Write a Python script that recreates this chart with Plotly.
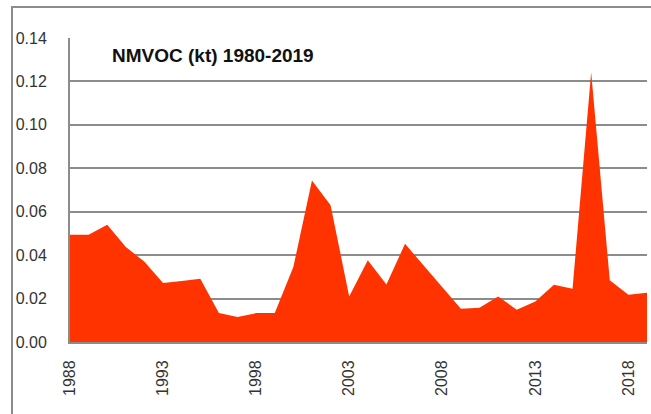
import plotly.graph_objects as go

years = list(range(1988, 2020))
nmvoc = [0.0494, 0.0494, 0.0540, 0.0437, 0.0370, 0.0272, 0.0281, 0.0291,
         0.0133, 0.0115, 0.0133, 0.0133, 0.0345, 0.0744, 0.0630, 0.0210,
         0.0376, 0.0265, 0.0452, 0.0352, 0.0256, 0.0153, 0.0158, 0.0210,
         0.0149, 0.0187, 0.0264, 0.0245, 0.1242, 0.0284, 0.0218, 0.0227]
x_ticks = [1988, 1993, 1998, 2003, 2008, 2013, 2018]
y_ticks = [0.00, 0.02, 0.04, 0.06, 0.08, 0.10, 0.12, 0.14]
title_text = "NMVOC (kt) 1980-2019"

fig = go.Figure()
fig.add_trace(go.Scatter(
    x=years, y=nmvoc, mode="lines", fill="tozeroy",
    line=dict(width=0, color="#FF3300"), fillcolor="#FF3300",
    hoverinfo="x+y", showlegend=False,
))

L, R, T, B = 70, 4, 38, 72
W, H = 651, 414
pw, ph = W - L - R, H - T - B

fig.update_layout(
    width=W, height=H, autosize=False,
    margin=dict(l=L, r=R, t=T, b=B, pad=0),
    paper_bgcolor="white", plot_bgcolor="white",
    font=dict(family="Liberation Sans, Arial, sans-serif", color="#333333"),
    xaxis=dict(
        range=[1988, 2019], tickvals=x_ticks, ticktext=[str(v) for v in x_ticks],
        tickangle=-90, showgrid=False, zeroline=False,
        showline=True, linecolor="#8c8c8c", linewidth=2,
        ticks="", ticklabelstandoff=10, tickfont=dict(size=16, color="#333333"),
    ),
    yaxis=dict(
        range=[0, 0.14], tickvals=y_ticks, ticktext=[f"{v:.2f}" for v in y_ticks],
        showgrid=True, gridcolor="#8c8c8c", gridwidth=2, zeroline=False,
        showline=True, linecolor="#8c8c8c", linewidth=2,
        ticks="", ticklabelstandoff=18, tickfont=dict(size=16, color="#333333"),
    ),
    annotations=[dict(
        text="<b>" + title_text + "</b>", xref="paper", yref="paper",
        x=(110 - L) / pw, y=(H - B - 55) / ph, xanchor="left", yanchor="middle",
        showarrow=False, font=dict(size=19, color="#111111"),
    )],
    shapes=[dict(
        type="rect", xref="paper", yref="paper",
        x0=(12 - L) / pw, x1=1.2, y0=-0.6, y1=(H - B - 7) / ph,
        line=dict(color="#8c8c8c", width=2), fillcolor="rgba(0,0,0,0)", layer="below",
    )],
)

post = ("document.body.style.margin='0px';document.body.style.padding='0px';"
        "document.body.style.overflow='hidden';"
        "var gd=document.getElementById('{plot_id}');"
        "Plotly.relayout(gd,{width:651,height:414});")

fig.write_html("out.html", config={"responsive": False, "displayModeBar": False},
               post_script=post)
